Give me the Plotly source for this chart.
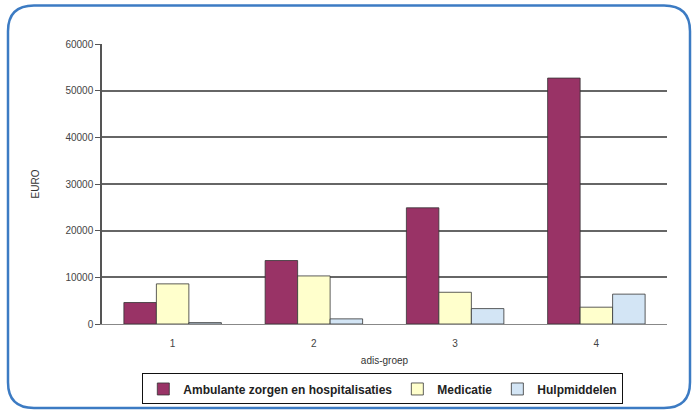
import plotly.graph_objects as go

# Cost per group, split by expenditure type
groups = ["1", "2", "3", "4"]
ambulant = [4600, 13600, 24900, 52700]
medicatie = [8600, 10300, 6800, 3600]
hulpmiddelen = [300, 1100, 3300, 6400]

series_names = ["Ambulante zorgen en hospitalisaties", "Medicatie", "Hulpmiddelen"]
series_colors = ["#993366", "#FFFFCC", "#D3E5F5"]
y_ticks = [0, 10000, 20000, 30000, 40000, 50000, 60000]

W, H = 698, 417
L, R, T, B = 102, 31, 44, 90
pw, ph = W - L - R, H - T - B

fig = go.Figure()
for name, vals, col in zip(series_names, [ambulant, medicatie, hulpmiddelen], series_colors):
    fig.add_trace(go.Bar(
        x=groups, y=vals, name=name,
        marker=dict(color=col, line=dict(color="#333333", width=0.8)),
    ))


def px(x):
    return (x - L) / pw


def py(y):
    return (H - B - y) / ph


# rounded outer frame around the whole chart
x0, x1, y0, y1, r = 8, 690, 5, 412, 26
path = (
    f"M {px(x0 + r)},{py(y0)} L {px(x1 - r)},{py(y0)} "
    f"Q {px(x1)},{py(y0)} {px(x1)},{py(y0 + r)} "
    f"L {px(x1)},{py(y1 - r)} Q {px(x1)},{py(y1)} {px(x1 - r)},{py(y1)} "
    f"L {px(x0 + r)},{py(y1)} Q {px(x0)},{py(y1)} {px(x0)},{py(y1 - r)} "
    f"L {px(x0)},{py(y0 + r)} Q {px(x0)},{py(y0)} {px(x0 + r)},{py(y0)} Z"
)
fig.add_shape(type="path", path=path, xref="paper", yref="paper",
              line=dict(color="#3C7BC3", width=2.5), layer="above")

fig.update_layout(
    width=W, height=H,
    margin=dict(l=L, r=R, t=T, b=B),
    paper_bgcolor="white", plot_bgcolor="white",
    barmode="group", bargap=0.31, bargroupgap=0,
    font=dict(family="Liberation Sans, Arial", color="#333333"),
    xaxis=dict(
        title=dict(text="adis-groep", font=dict(size=10, color="#333333"), standoff=8),
        showline=True, linecolor="#888888", linewidth=1,
        tickfont=dict(size=10, color="#444444"), ticks="",
        ticklabelstandoff=10,
        showgrid=False,
    ),
    yaxis=dict(
        title=dict(text="EURO", font=dict(size=10, color="#333333"), standoff=24),
        range=[0, 60000], tickvals=y_ticks, ticktext=[str(v) for v in y_ticks],
        showline=True, linecolor="#555555", linewidth=1.5,
        ticks="outside", ticklen=5, tickcolor="#555555",
        tickfont=dict(size=10, color="#444444"),
        showgrid=True, gridcolor="#666666", gridwidth=1.5,
        zeroline=False,
    ),
    legend=dict(
        orientation="h", x=0.497, xanchor="center", y=py(377), yanchor="top",
        bordercolor="#111111", borderwidth=1,
        font=dict(size=12, color="#222222", family="Liberation Sans, Arial", weight="bold"),
        itemwidth=30, tracegroupgap=0,
    ),
)

fig.write_html("out.html")
